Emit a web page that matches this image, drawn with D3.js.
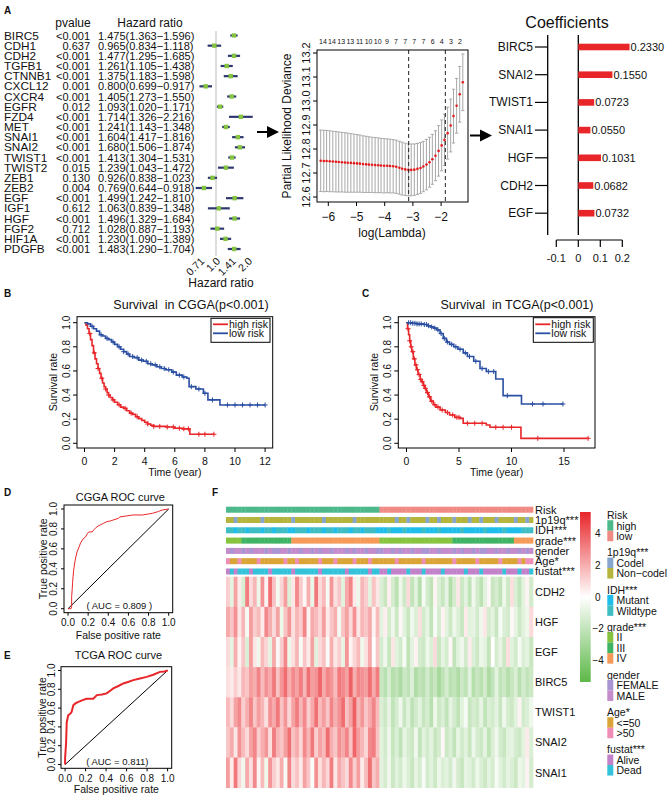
<!DOCTYPE html>
<html><head><meta charset="utf-8">
<script src="https://cdn.jsdelivr.net/npm/d3@7"></script>
<style>
body{margin:0;background:#fff}
svg{display:block}
text{font-family:"Liberation Sans",Arial,Helvetica,sans-serif;fill:#111;white-space:pre}
</style>
</head><body>
<svg id="c" width="669" height="795"></svg>
<script>
// ---------------- DATA ----------------
// Panel A: univariate Cox forest
const forestGenes = ["BIRC5","CDH1","CDH2","TGFB1","CTNNB1","CXCL12","CXCR4","EGFR","FZD4","MET","SNAI1","SNAI2","TWIST1","TWIST2","ZEB1","ZEB2","EGF","IGF1","HGF","FGF2","HIF1A","PDGFB"];
const forestP = ["<0.001","0.637","<0.001","<0.001","<0.001","0.001","<0.001","0.012","<0.001","<0.001","<0.001","<0.001","<0.001","0.015","0.130","0.004","<0.001","0.612","<0.001","0.712","<0.001","<0.001"];
const forestHR = [1.475,0.965,1.477,1.261,1.375,0.800,1.405,1.093,1.714,1.241,1.604,1.680,1.413,1.239,0.926,0.769,1.499,1.063,1.496,1.028,1.230,1.483];
const forestLow = [1.363,0.834,1.295,1.105,1.183,0.699,1.273,1.020,1.326,1.143,1.417,1.506,1.304,1.043,0.838,0.644,1.242,0.839,1.329,0.887,1.090,1.290];
const forestHigh = [1.596,1.118,1.685,1.438,1.598,0.917,1.550,1.171,2.216,1.348,1.816,1.874,1.531,1.472,1.023,0.918,1.810,1.348,1.684,1.193,1.389,1.704];
const hrTicks = [0.71,1.0,1.41,2.0];
const hrTickLabels = ["0.71","1.0","1.41","2.0"];

// Panel A: LASSO cross-validation
const lassoLogLambda = [-6.27,-6.16,-6.06,-5.95,-5.84,-5.73,-5.63,-5.52,-5.41,-5.31,-5.20,-5.09,-4.98,-4.88,-4.77,-4.66,-4.56,-4.45,-4.34,-4.23,-4.13,-4.02,-3.91,-3.81,-3.70,-3.59,-3.48,-3.38,-3.27,-3.16,-3.06,-2.95,-2.84,-2.73,-2.63,-2.52,-2.41,-2.31,-2.20,-2.09,-1.98,-1.88,-1.77,-1.66,-1.56,-1.45,-1.34,-1.23];
const lassoMean = [12.751,12.750,12.750,12.749,12.748,12.747,12.746,12.745,12.744,12.743,12.742,12.741,12.740,12.739,12.737,12.736,12.735,12.734,12.733,12.732,12.731,12.730,12.730,12.729,12.728,12.726,12.722,12.718,12.715,12.713,12.713,12.714,12.717,12.721,12.727,12.735,12.745,12.757,12.772,12.792,12.815,12.838,12.866,12.898,12.937,12.980,13.028,13.078];
const lassoSD = [0.128,0.128,0.127,0.127,0.126,0.126,0.125,0.124,0.124,0.123,0.122,0.121,0.120,0.119,0.118,0.117,0.116,0.115,0.115,0.114,0.113,0.113,0.112,0.112,0.111,0.111,0.110,0.110,0.109,0.108,0.108,0.107,0.106,0.106,0.105,0.105,0.104,0.104,0.104,0.105,0.106,0.107,0.108,0.110,0.112,0.114,0.116,0.118];
const lassoTopLabels = ["14","14","13","13","11","10","10","9","7","7","7","7","6","4","3","2"];
const lassoTopAt = [-6.19,-5.87,-5.54,-5.22,-4.89,-4.57,-4.25,-3.92,-3.60,-3.27,-2.95,-2.63,-2.30,-1.98,-1.65,-1.33];
const lassoVLines = [-3.15,-1.85];
const lassoYTicks = [12.6,12.7,12.8,12.9,13.0,13.1,13.2];
const lassoXTicks = [-6,-5,-4,-3,-2];

// Panel A: coefficients
const coefGenes = ["BIRC5","SNAI2","TWIST1","SNAI1","HGF","CDH2","EGF"];
const coefValues = [0.2330,0.1550,0.0723,0.0550,0.1031,0.0682,0.0732];
const coefTicks = [-0.1,0,0.1,0.2];

// Panel B: KM CGGA  [time, survival] steps
const cggaHigh = [[0,1.0],[0.1,0.98],[0.2,0.95],[0.3,0.91],[0.4,0.86],[0.5,0.81],[0.6,0.75],[0.7,0.70],[0.8,0.66],[0.9,0.62],[1.0,0.58],[1.1,0.54],[1.2,0.50],[1.3,0.47],[1.4,0.45],[1.5,0.42],[1.6,0.40],[1.7,0.38],[1.85,0.36],[2.0,0.34],[2.2,0.32],[2.4,0.30],[2.6,0.29],[2.8,0.27],[3.0,0.25],[3.2,0.24],[3.4,0.22],[3.6,0.205],[3.8,0.19],[4.0,0.175],[4.2,0.16],[4.4,0.15],[4.6,0.14],[5.4,0.135],[6.0,0.125],[6.5,0.12],[7.0,0.075]];
const cggaHighEnd = 8.6;
const cggaHighCens = [0.35,0.65,0.9,1.15,1.4,1.6,1.9,2.3,2.7,3.1,3.5,4.2,4.6,5.0,5.5,5.9,6.3,6.6,6.9,7.6,8.0,8.6];
const cggaLow = [[0,1.0],[0.2,0.99],[0.4,0.97],[0.6,0.95],[0.8,0.93],[1.0,0.90],[1.2,0.89],[1.4,0.87],[1.6,0.86],[1.8,0.84],[2.0,0.82],[2.2,0.80],[2.4,0.78],[2.6,0.76],[2.8,0.74],[3.0,0.72],[3.3,0.71],[3.6,0.69],[3.9,0.68],[4.2,0.66],[4.5,0.65],[4.8,0.635],[5.1,0.62],[5.4,0.61],[5.8,0.59],[6.1,0.565],[6.5,0.55],[6.8,0.54],[6.95,0.47],[7.4,0.45],[7.9,0.415],[8.2,0.36],[9.0,0.318]];
const cggaLowEnd = 12.0;
const cggaLowCens = [0.5,1.1,1.5,1.9,2.3,2.6,2.9,3.2,3.5,3.8,4.1,4.4,4.7,5.0,5.3,5.6,5.9,6.3,6.6,7.1,7.6,8.0,8.5,9.5,10.0,10.5,11.0,11.5,12.0];
const cggaXTicks = [0,2,4,6,8,10,12];

// Panel C: KM TCGA
const tcgaHigh = [[0,1.0],[0.1,0.95],[0.2,0.90],[0.3,0.85],[0.4,0.80],[0.5,0.76],[0.65,0.70],[0.8,0.65],[0.95,0.61],[1.1,0.57],[1.3,0.53],[1.45,0.51],[1.6,0.48],[1.75,0.455],[1.9,0.42],[2.1,0.385],[2.3,0.35],[2.55,0.32],[2.8,0.30],[3.2,0.276],[3.7,0.255],[4.1,0.235],[4.6,0.215],[5.1,0.207],[5.4,0.166],[7.6,0.152],[7.95,0.133],[10.9,0.041]];
const tcgaHighEnd = 17.3;
const tcgaHighCens = [0.15,0.3,0.45,0.6,0.75,0.9,1.05,1.2,1.35,1.5,1.65,1.8,2.0,2.2,2.4,2.7,3.0,3.4,3.9,4.4,4.8,5.0,5.8,6.5,7.2,8.5,9.2,10.0,12.5,17.3];
const tcgaLow = [[0,1.0],[0.5,0.995],[1.0,0.99],[1.6,0.985],[2.0,0.975],[2.3,0.965],[2.6,0.955],[2.9,0.94],[3.2,0.91],[3.5,0.87],[3.8,0.84],[4.1,0.82],[4.5,0.80],[4.9,0.78],[5.4,0.75],[5.8,0.72],[6.4,0.68],[7.0,0.62],[7.6,0.595],[8.5,0.533],[9.2,0.395],[10.95,0.326]];
const tcgaLowEnd = 14.9;
const tcgaLowCens = [0.2,0.4,0.6,0.8,1.0,1.2,1.4,1.7,1.9,2.1,2.4,2.7,3.0,3.3,3.6,3.9,4.3,4.7,5.1,5.6,6.0,6.6,7.2,7.8,8.3,9.6,12.0,13.0,14.9];
const tcgaXTicks = [0,5,10,15];
const survTicks = [0,0.2,0.4,0.6,0.8,1.0];

// Panels D, E: ROC [FPR, TPR]
const rocCGGA = [[0,0],[0.03,0.0],[0.036,0.02],[0.036,0.12],[0.042,0.2],[0.045,0.26],[0.05,0.32],[0.055,0.38],[0.061,0.42],[0.07,0.48],[0.078,0.52],[0.09,0.57],[0.11,0.62],[0.125,0.66],[0.143,0.69],[0.16,0.71],[0.175,0.72],[0.19,0.75],[0.207,0.77],[0.24,0.77],[0.255,0.79],[0.27,0.806],[0.30,0.83],[0.32,0.84],[0.35,0.855],[0.385,0.873],[0.42,0.88],[0.45,0.89],[0.5,0.906],[0.515,0.92],[0.58,0.93],[0.644,0.94],[0.74,0.94],[0.8,0.95],[0.84,0.957],[0.9,0.975],[0.935,0.99],[1,1]];
const rocTCGA = [[0,0],[0.0,0.066],[0.01,0.24],[0.016,0.45],[0.031,0.525],[0.05,0.54],[0.064,0.56],[0.08,0.63],[0.1,0.65],[0.13,0.667],[0.17,0.685],[0.21,0.70],[0.275,0.70],[0.31,0.738],[0.36,0.745],[0.405,0.756],[0.44,0.785],[0.47,0.81],[0.52,0.835],[0.568,0.862],[0.62,0.88],[0.665,0.897],[0.73,0.915],[0.796,0.932],[0.86,0.955],[0.926,0.985],[0.97,0.99],[1,1]];
const rocTicks = [0,0.2,0.4,0.6,0.8,1.0];

// Panel F: heatmap (40 high-risk + 40 low-risk samples)
const hmGenes = ["CDH2","HGF","EGF","BIRC5","TWIST1","SNAI2","SNAI1"];
const hmCDH2 = [1.2,-0.9,2.3,0.5,-1.3,3.2,0.9,1.8,-0.6,2.7,0.3,3.6,1.5,-0.4,1.0,2.4,-1.2,0.6,2.9,1.3,0.2,2.0,-0.7,3.3,0.9,1.7,-0.3,2.6,0.8,1.4,-1.0,2.1,3.0,0.5,-0.6,1.8,1.2,-0.9,1.5,0.6,
  -1.2,-1.8,0.4,-1.4,-2.2,-0.6,-1.7,0.9,-2.0,-1.0,-2.4,-0.3,-1.5,-2.1,0.3,-1.2,-1.8,-0.8,-2.5,-1.4,0.6,-1.7,-0.9,-2.0,-0.5,-1.5,-2.2,-1.0,0.2,-1.8,-1.4,-2.1,-0.6,-1.7,0.8,-1.2,-2.0,-0.9,0.3,-1.5];
const hmHGF = [2.1,1.4,2.7,0.6,1.8,-0.3,2.4,1.2,1.7,0.5,2.9,2.0,0.9,2.3,-0.6,1.5,2.6,0.8,1.8,1.2,3.0,0.3,2.1,1.7,1.0,2.4,0.5,1.4,2.0,-0.4,1.5,2.3,0.9,2.7,0.6,1.8,1.4,2.1,0.3,1.7,
  -0.9,0.4,-1.4,-0.6,-1.7,0.2,-1.0,-1.8,-0.5,-1.2,0.8,-1.5,-0.8,-2.0,-0.3,-1.4,0.3,-0.9,-1.7,-0.6,-1.2,-1.8,0.5,-1.0,-0.8,-1.5,-0.5,0.6,-1.4,-0.9,-1.8,-0.3,-1.2,-1.5,0.2,-0.8,-1.7,-1.0,-0.6,0.9];
const hmEGF = [0.9,-0.8,2.0,0.3,1.4,-1.2,2.4,0.6,-0.5,1.7,1.0,-0.9,2.1,0.2,1.2,2.9,-0.6,0.8,1.8,-0.3,1.4,0.5,2.3,-1.0,0.9,1.5,-0.2,2.0,0.6,1.2,-0.8,2.6,0.3,1.0,1.7,-0.5,0.8,2.1,0.0,1.4,
  -1.4,-0.5,-1.8,0.6,-1.0,-1.5,-0.3,-2.1,-0.9,0.3,-1.4,-1.7,-0.6,-1.2,0.9,-1.8,-0.8,-1.4,0.2,-2.0,-1.0,-0.5,-1.5,0.5,-1.2,-1.7,-0.6,-0.9,-2.0,0.0,-1.4,-0.8,-1.7,0.8,-1.0,-1.5,-0.3,-1.2,-0.9,-1.8];
const hmBIRC5 = [0.8,0.5,1.2,0.6,1.8,1.4,2.4,2.0,3.0,1.7,2.7,2.1,3.3,1.5,2.6,3.6,2.0,2.9,2.3,3.2,1.8,3.5,2.4,2.7,3.8,2.1,3.0,2.6,1.7,3.3,2.9,2.3,3.9,2.0,3.0,2.7,2.4,3.5,2.1,3.2,
  -1.8,-2.3,-1.4,-2.4,-2.0,-2.7,-1.7,-2.1,-1.2,-2.6,-2.0,-2.3,-1.5,-2.4,-1.8,-2.9,-2.1,-1.4,-2.3,-2.0,-2.6,-1.7,-2.1,-1.0,-2.4,-1.8,-2.3,-1.5,-2.7,-2.0,-0.9,-2.1,-1.7,-2.4,-1.8,-1.2,-2.3,-1.5,-2.0,-1.7];
const hmTWIST1 = [1.7,0.9,2.3,2.9,1.2,2.0,3.0,1.4,2.4,1.8,0.8,2.7,2.1,3.3,1.5,2.6,1.0,2.3,3.2,1.8,2.9,1.2,2.1,3.5,1.7,2.4,1.4,3.0,2.0,2.7,3.6,1.5,2.3,3.9,1.8,2.6,1.4,2.1,3.0,1.7,
  -1.2,-1.7,-0.8,-2.0,-1.4,-0.5,-1.8,-1.0,-2.1,-1.5,-0.9,-1.8,-1.4,-2.3,-0.6,-1.7,-1.2,-2.0,-0.9,-1.5,-2.1,-1.0,-0.3,-1.8,-1.4,-1.7,-0.8,-2.0,-1.2,-1.5,-0.9,-1.8,-0.5,-1.4,-1.7,-1.0,0.3,-1.5,-1.2,-0.6];
const hmSNAI2 = [1.4,2.1,0.6,2.7,1.7,0.9,2.3,3.0,1.2,2.0,2.6,0.8,3.2,1.8,1.4,2.4,3.5,1.5,2.1,1.0,2.9,1.8,3.3,1.2,2.3,1.7,3.6,2.0,1.4,2.7,2.1,3.0,1.5,3.8,2.4,1.8,1.0,2.9,3.2,1.5,
  -1.0,-1.5,-0.6,-1.8,-1.2,-2.1,-0.8,-1.4,-1.7,-0.5,-2.0,-1.0,-1.5,-0.9,-1.8,-1.4,0.2,-1.7,-1.2,-2.0,-0.8,-1.5,-1.0,-1.8,-0.6,-1.4,-1.7,-0.9,-2.1,-1.2,-0.5,-1.5,-1.8,-1.0,-0.8,-1.4,-1.7,-0.9,0.5,-1.2];
const hmSNAI1 = [2.4,0.5,3.3,1.0,-0.5,2.1,0.8,2.9,0.3,1.7,-0.6,2.6,1.2,0.6,2.0,-0.3,3.0,0.9,1.5,0.5,2.3,1.4,-0.2,2.7,0.8,1.8,1.0,3.2,0.6,2.1,1.5,0.9,2.9,1.2,2.4,0.5,1.7,3.5,1.4,2.0,
  -0.9,-1.4,-0.5,-1.7,-1.0,-1.5,-0.6,-1.2,-1.8,-0.8,-1.4,-0.3,-1.5,-1.0,-1.7,-0.6,-1.2,-0.9,-1.5,-0.5,-1.4,-1.8,-0.8,-1.0,-1.5,-0.6,-1.2,-1.7,-0.9,-1.4,-0.3,-1.0,-1.5,-0.8,-1.2,-1.7,-0.6,-0.9,0.3,-1.4];
const hmTicks = [4,2,0,-2,-4];

// annotation tracks (category index per sample)
const annRisk =   [0,0,0,0,0,0,0,0,0,0,0,0,0,0,0,0,0,0,0,0,0,0,0,0,0,0,0,0,0,0,0,0,0,0,0,0,0,0,0,0,1,1,1,1,1,1,1,1,1,1,1,1,1,1,1,1,1,1,1,1,1,1,1,1,1,1,1,1,1,1,1,1,1,1,1,1,1,1,1,1];
const ann1p19q =  [1,1,0,1,1,1,1,1,1,0,1,1,1,1,1,1,1,0,1,1,1,1,1,1,1,0,1,1,1,1,1,1,1,0,1,1,1,1,1,1,1,1,1,1,0,1,1,0,1,1,1,1,0,1,1,0,1,1,1,0,1,1,1,0,1,1,0,1,1,1,0,1,1,1,1,0,1,1,0,1];
const annIDH =    [1,1,0,1,1,0,1,1,1,0,1,1,0,1,1,1,0,0,1,1,1,0,1,1,1,0,1,1,0,1,1,1,0,1,1,0,1,1,1,0,0,0,1,0,0,0,1,0,0,0,0,1,0,0,0,1,0,0,0,0,0,1,0,0,0,0,0,1,0,0,0,0,1,0,0,0,0,1,1,1];
const annGrade =  [0,0,0,0,1,1,1,1,1,1,1,1,1,1,1,1,1,2,2,2,2,2,2,2,2,2,2,2,2,2,2,2,2,2,2,2,2,2,2,2,0,0,0,0,0,0,0,0,0,0,0,0,0,0,0,0,0,0,0,1,1,1,1,1,1,1,1,1,1,1,1,1,1,1,1,2,2,2,2,2];
const annGender = [1,0,1,1,0,1,0,1,1,1,0,1,0,0,1,1,0,1,1,0,1,1,0,1,0,1,1,0,1,1,1,0,1,0,1,1,0,1,1,0,0,1,1,0,1,0,1,1,0,1,1,0,0,1,1,0,1,1,1,0,1,0,1,1,0,1,0,0,1,1,0,1,1,0,1,1,0,1,0,1];
const annAge =    [1,0,0,1,0,0,0,0,1,0,0,0,0,0,0,1,0,0,1,0,0,0,0,0,1,0,0,0,1,0,0,0,0,1,0,0,0,1,0,0,0,0,0,0,1,0,0,0,0,0,0,1,0,0,0,0,0,0,0,1,0,0,0,0,0,1,0,0,0,0,0,1,0,0,0,0,1,0,1,1];
const annFustat = [0,1,0,1,1,1,0,1,1,1,1,0,1,1,1,1,1,0,1,1,1,1,1,1,0,1,1,1,1,1,1,0,1,1,1,1,1,0,1,1,0,0,1,0,0,0,0,1,0,0,0,1,0,0,0,0,1,0,0,0,0,0,1,0,0,0,1,0,0,0,0,0,1,0,0,0,1,0,0,1];
const annNames = ["Risk","1p19q***","IDH***","grade***","gender","Age*","fustat***"];
const annLevels = [["high","low"],["Codel","Non\u2212codel"],["Mutant","Wildtype"],["II","III","IV"],["FEMALE","MALE"],["<=50",">50"],["Alive","Dead"]];
const annColors = [["#4db88c","#f08a84"],["#86a6cf","#b5b43c"],["#1fbde9","#3ebdc4"],["#86c440","#3fb465","#f59a58"],["#a995d3","#c48ccb"],["#daa436","#ee8db5"],["#c282c9","#33c2d9"]];

// ---------------- DRAW ----------------
const svg = d3.select("#c");
svg.append("rect").attr("width",669).attr("height",795).attr("fill","#fff");
function T(g,x,y,s,size,anchor,extra){
  const t=g.append("text").attr("x",x).attr("y",y).attr("font-size",size)
    .attr("text-anchor",anchor||"start").attr("dominant-baseline","central").text(s);
  if(extra) for(const k in extra) t.attr(k,extra[k]);
  return t;
}
function rotT(g,x,y,s,size,ang,anchor){
  return g.append("text").attr("transform",`translate(${x},${y}) rotate(${ang})`)
    .attr("font-size",size).attr("text-anchor",anchor||"middle").attr("dominant-baseline","central").text(s);
}
function arrow(g,x0,x1,xh,y,h){
  g.append("line").attr("x1",x0).attr("x2",x1+1).attr("y1",y).attr("y2",y).attr("stroke","#000").attr("stroke-width",2);
  g.append("path").attr("d",`M${x1},${y-h}L${xh},${y}L${x1},${y+h}Z`).attr("fill","#000");
}
const RED="#e8262a", BLUE="#2b4fa2";

// panel letters
[["A",4,10],["B",4,293],["C",362,293],["D",4,492],["E",4,655],["F",212,492]].forEach(([s,x,y])=>
  T(svg,x,y,s,10,"start",{"font-weight":"bold"}));

// ---- Forest ----
const gA = svg.append("g");
const fy = d3.scalePoint().domain(forestGenes).range([35.5,249]);
const fx = d3.scaleLog().base(2).domain([1,2]).range([216,248]);
T(gA,73,23,"pvalue",12,"middle");
T(gA,150,23,"Hazard ratio",12,"middle");
gA.append("line").attr("x1",fx(1)).attr("x2",fx(1)).attr("y1",31).attr("y2",256).attr("stroke","#bbb").attr("stroke-width",1);
forestGenes.forEach((g,i)=>{
  const y=fy(g);
  T(gA,4,y,g,11.8,"start");
  T(gA,90,y,forestP[i],11,"end",{fill: forestP[i].startsWith("<")?"#111":"#888"});
  T(gA,98,y,`${forestHR[i].toFixed(3)}(${forestLow[i].toFixed(3)}\u2212${forestHigh[i].toFixed(3)})`,11,"start");
  gA.append("line").attr("x1",fx(forestLow[i])).attr("x2",fx(forestHigh[i])).attr("y1",y).attr("y2",y)
    .attr("stroke","#2e3770").attr("stroke-width",2.2);
  gA.append("rect").attr("x",fx(forestHR[i])-2.2).attr("y",y-2.2).attr("width",4.4).attr("height",4.4).attr("fill","#84c441");
});
hrTicks.forEach((v,i)=>{
  rotT(gA,fx(v)+2,259,hrTickLabels[i],10.5,-45,"end");
});
T(gA,221,283,"Hazard ratio",12,"middle");

arrow(svg,257,267,279,132,6);
arrow(svg,470,480,492,135.5,6);

// ---- LASSO ----
const gL = svg.append("g");
const lx = d3.scaleLinear().domain([-6,-2]).range([328.3,441.1]);
const ly = d3.scaleLinear().domain([12.6,13.2]).range([197,53]);
const bL=317,bR=468,bT=50,bB=202;
lassoLogLambda.forEach((l,i)=>{
  const x=lx(l), y1=ly(lassoMean[i]-lassoSD[i]), y2=ly(lassoMean[i]+lassoSD[i]);
  gL.append("path").attr("d",`M${x},${y1}V${y2}M${x-1.6},${y1}H${x+1.6}M${x-1.6},${y2}H${x+1.6}`)
    .attr("stroke","#a8a8a8").attr("stroke-width",1).attr("fill","none");
});
lassoLogLambda.forEach((l,i)=>{
  gL.append("circle").attr("cx",lx(l)).attr("cy",ly(lassoMean[i])).attr("r",1.3).attr("fill","#e41a1c");
});
lassoVLines.forEach(v=>gL.append("line").attr("x1",lx(v)).attr("x2",lx(v)).attr("y1",bT).attr("y2",bB)
  .attr("stroke","#222").attr("stroke-width",1).attr("stroke-dasharray","4,3"));
gL.append("rect").attr("x",bL).attr("y",bT).attr("width",bR-bL).attr("height",bB-bT).attr("fill","none").attr("stroke","#000").attr("stroke-width",1);
lassoYTicks.forEach(v=>{
  gL.append("line").attr("x1",bL-4).attr("x2",bL).attr("y1",ly(v)).attr("y2",ly(v)).attr("stroke","#000");
  rotT(gL,306,ly(v),v.toFixed(1),11,-90,"middle");
});
lassoXTicks.forEach(v=>{
  gL.append("line").attr("x1",lx(v)).attr("x2",lx(v)).attr("y1",bB).attr("y2",bB+4).attr("stroke","#000");
  T(gL,lx(v),217,"\u2212"+Math.abs(v),12,"middle");
});
lassoTopLabels.forEach((s,i)=>T(gL,lx(lassoTopAt[i]),41,s,7,"middle"));
rotT(gL,287,126,"Partial Likelihood Deviance",12,-90,"middle");
T(gL,392,233,"log(Lambda)",12,"middle");

// ---- Coefficients ----
const gC = svg.append("g");
const cx = d3.scaleLinear().domain([-0.1,0.2]).range([556.3,622.3]);
const cy = d3.scalePoint().domain(coefGenes).range([47,213.2]);
T(gC,567,22,"Coefficients",16,"middle");
gC.append("line").attr("x1",547.7).attr("x2",547.7).attr("y1",35).attr("y2",235).attr("stroke","#000").attr("stroke-width",1.3);
gC.append("line").attr("x1",cx(0)).attr("x2",cx(0)).attr("y1",35).attr("y2",235).attr("stroke","#000").attr("stroke-width",1.3);
coefGenes.forEach((g,i)=>{
  const y=cy(g);
  gC.append("line").attr("x1",535).attr("x2",547.7).attr("y1",y).attr("y2",y).attr("stroke","#000").attr("stroke-width",1.2);
  T(gC,533,y,g,12,"end");
  gC.append("rect").attr("x",cx(0)).attr("y",y-3.3).attr("width",cx(coefValues[i])-cx(0)).attr("height",6.6).attr("fill",RED);
  T(gC,cx(coefValues[i])+1,y,coefValues[i].toFixed(4),11,"start");
});
gC.append("line").attr("x1",cx(-0.1)).attr("x2",cx(0.2)).attr("y1",240).attr("y2",240).attr("stroke","#000").attr("stroke-width",1.2);
coefTicks.forEach(v=>{
  gC.append("line").attr("x1",cx(v)).attr("x2",cx(v)).attr("y1",240).attr("y2",247).attr("stroke","#000").attr("stroke-width",1.2);
  T(gC,cx(v),258,v===0?"0":String(v),11,"middle");
});

// ---- KM helper ----
function km(box, xs, ys, xTicks, title, titleX, series, legendBox){
  const g=svg.append("g");
  const [L,R,Tp,B]=box;
  T(g,titleX,305,title,12.5,"middle");
  series.forEach(([steps,end,cens,col])=>{
    const pts=steps.concat([[end,steps[steps.length-1][1]]]);
    g.append("path").datum(pts).attr("d",d3.line().x(d=>xs(d[0])).y(d=>ys(d[1])).curve(d3.curveStepAfter))
      .attr("fill","none").attr("stroke",col).attr("stroke-width",1.6);
    const sAt=t=>{let s=1;for(const [tt,ss] of steps) if(tt<=t) s=ss;return s;};
    cens.forEach(t=>{const X=xs(t),Y=ys(sAt(t));
      g.append("path").attr("d",`M${X-2.5},${Y}H${X+2.5}M${X},${Y-2.5}V${Y+2.5}`).attr("stroke",col).attr("stroke-width",1);});
  });
  g.append("rect").attr("x",L).attr("y",Tp).attr("width",R-L).attr("height",B-Tp).attr("fill","none").attr("stroke","#000").attr("stroke-width",1);
  survTicks.forEach(v=>{
    g.append("line").attr("x1",L-4).attr("x2",L).attr("y1",ys(v)).attr("y2",ys(v)).attr("stroke","#000");
    rotT(g,L-11,ys(v),v.toFixed(1),10,-90,"middle");
  });
  xTicks.forEach(v=>{
    g.append("line").attr("x1",xs(v)).attr("x2",xs(v)).attr("y1",B).attr("y2",B+4).attr("stroke","#000");
    T(g,xs(v),461,String(v),10.5,"middle");
  });
  rotT(g,L-24,382,"Survival rate",10.5,-90,"middle");
  T(g,(L+R)/2,472,"Time (year)",10.5,"middle");
  const [lx0,lx1,ly0,ly1]=legendBox;
  g.append("rect").attr("x",lx0).attr("y",ly0).attr("width",lx1-lx0).attr("height",ly1-ly0).attr("fill","#fff").attr("stroke","#000").attr("stroke-width",1);
  [["high risk",RED,324.3],["low risk",BLUE,333.3]].forEach(([s,c,y])=>{
    g.append("line").attr("x1",lx0+2).attr("x2",lx0+17).attr("y1",y).attr("y2",y).attr("stroke",c).attr("stroke-width",1.8);
    T(g,lx0+18,y,s,10.5,"start");
  });
}
const kmY = d3.scaleLinear().domain([0,1]).range([443.3,322.7]);
km([77,272.7,316.7,448], d3.scaleLinear().domain([0,12]).range([84.5,265.1]), kmY, cggaXTicks,
   "Survival  in CGGA(p<0.001)", 191,
   [[cggaHigh,cggaHighEnd,cggaHighCens,RED],[cggaLow,cggaLowEnd,cggaLowCens,BLUE]], [211,270,318.3,342.3]);
km([398.3,595,316.7,448], d3.scaleLinear().domain([0,15]).range([406.5,564]), kmY, tcgaXTicks,
   "Survival  in TCGA(p<0.001)", 517,
   [[tcgaHigh,tcgaHighEnd,tcgaHighCens,RED],[tcgaLow,tcgaLowEnd,tcgaLowCens,BLUE]], [533.3,593.3,317.7,342.3]);

// ---- ROC helper ----
function roc(box, data, title, titleY, auc, aucY, tickLabY, xlabY, ylabX, width){
  const g=svg.append("g");
  const [L,R,Tp,B]=box;
  const u=(R-L)/1.08, v=(B-Tp)/1.08;
  const xs=d3.scaleLinear().domain([0,1]).range([L+0.04*u,R-0.04*u]);
  const ys=d3.scaleLinear().domain([0,1]).range([B-0.04*v,Tp+0.04*v]);
  T(g,(L+R)/2+2,titleY,title,11,"middle");
  g.append("line").attr("x1",xs(0)).attr("y1",ys(0)).attr("x2",xs(1)).attr("y2",ys(1)).attr("stroke","#000").attr("stroke-width",1);
  g.append("path").datum(data).attr("d",d3.line().x(d=>xs(d[0])).y(d=>ys(d[1])))
    .attr("fill","none").attr("stroke",RED).attr("stroke-width",width);
  g.append("rect").attr("x",L).attr("y",Tp).attr("width",R-L).attr("height",B-Tp).attr("fill","none").attr("stroke","#000").attr("stroke-width",1);
  rocTicks.forEach(t=>{
    g.append("line").attr("x1",L-3).attr("x2",L).attr("y1",ys(t)).attr("y2",ys(t)).attr("stroke","#000");
    rotT(g,ylabX+10,ys(t),t.toFixed(1),10,-90,"middle");
    g.append("line").attr("x1",xs(t)).attr("x2",xs(t)).attr("y1",B).attr("y2",B+3).attr("stroke","#000");
    T(g,xs(t),tickLabY,t.toFixed(1),10,"middle");
  });
  rotT(g,ylabX,(Tp+B)/2,"True positive rate",10.5,-90,"middle");
  T(g,(L+R)/2,xlabY,"False positive rate",10.5,"middle");
  T(g,(L+R)/2+1,aucY,auc,9.5,"middle");
}
roc([64,172.7,505,612.7], rocCGGA, "CGGA ROC curve", 497, "( AUC = 0.809 )", 605, 622, 635, 43.3, 1);
roc([61,171.7,666.7,768.3], rocTCGA, "TCGA ROC curve", 655, "( AUC = 0.811)", 761.7, 778, 789, 41.7, 2);

// ---- Heatmap ----
const gH = svg.append("g");
const hmRows = [hmCDH2,hmHGF,hmEGF,hmBIRC5,hmTWIST1,hmSNAI2,hmSNAI1];
const nS = hmCDH2.length;
const hx = d3.scaleBand().domain(d3.range(nS)).range([226,533]);
const hy = d3.scaleBand().domain(hmGenes).range([576.7,787.7]);
const hcol = d3.scaleLinear().domain([-5.35,0,5.35]).range(["#5db848","#ffffff","#e8262a"]);
hmGenes.forEach((g,r)=>{
  hmRows[r].forEach((v,i)=>{
    gH.append("rect").attr("x",hx(i)).attr("y",hy(g)).attr("width",hx.bandwidth()+0.35).attr("height",hy.bandwidth()+0.35).attr("fill",hcol(v));
  });
  T(gH,535,hy(g)+hy.bandwidth()/2,g,11,"start");
});
const annData=[annRisk,ann1p19q,annIDH,annGrade,annGender,annAge,annFustat];
const ay = d3.scaleBand().domain(annNames).range([506.7,574.5]).paddingInner(0.417).paddingOuter(0);
annNames.forEach((nm,k)=>{
  annData[k].forEach((c,i)=>{
    gH.append("rect").attr("x",hx(i)).attr("y",ay(nm)).attr("width",hx.bandwidth()+0.35).attr("height",ay.bandwidth()).attr("fill",annColors[k][c]);
  });
  T(gH,535,ay(nm)+ay.bandwidth()/2,nm,11,"start");
});
// colorbar
const defs=svg.append("defs");
const grad=defs.append("linearGradient").attr("id","cb").attr("x1",0).attr("x2",0).attr("y1",0).attr("y2",1);
[[0,5.35],[0.5,0],[1,-5.35]].forEach(([o,v])=>grad.append("stop").attr("offset",o).attr("stop-color",hcol(v)));
const cby=d3.scaleLinear().domain([5.35,-5.35]).range([512,682]);
gH.append("rect").attr("x",580).attr("y",512).attr("width",10.7).attr("height",170).attr("fill","url(#cb)");
hmTicks.forEach(v=>T(gH,v<0?592.5:595,cby(v),(v<0?"\u2212":"")+Math.abs(v),10,"start"));
// annotation legend
let ly0=515;
annNames.forEach((nm,k)=>{
  T(gH,607,ly0,nm,10.5,"start");
  ly0+=10.5;
  annLevels[k].forEach((lv,j)=>{
    gH.append("rect").attr("x",607.3).attr("y",ly0-5.25).attr("width",6).attr("height",10.5).attr("fill",annColors[k][j]);
    T(gH,616.5,ly0,lv,10.5,"start");
    ly0+=10.5;
  });
  ly0+=5.8;
});
</script>
</body></html>
